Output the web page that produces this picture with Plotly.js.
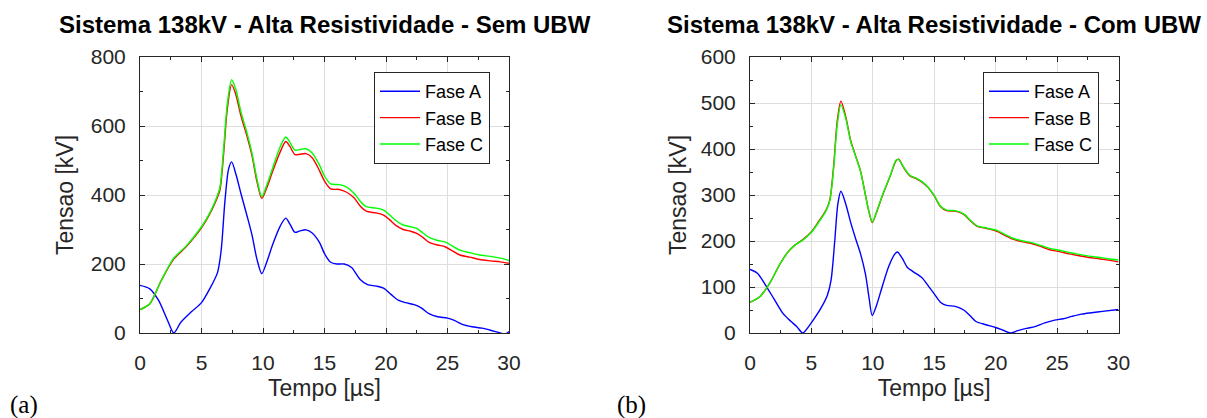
<!DOCTYPE html>
<html>
<head>
<meta charset="utf-8">
<script src="https://cdn.plot.ly/plotly-3.0.1.min.js"></script>
<style>html,body{margin:0;padding:0;background:#fff;}#chart{width:1207px;height:418px;}</style>
</head>
<body>
<div id="chart"></div>
<script>
// ---- Sem UBW (left) ----
const semA_t = [0,0.8,1.5,2.2,2.75,3.3,4.2,5.0,5.7,6.3,6.6,6.9,7.2,7.45,7.8,8.2,8.7,9.1,9.5,9.9,10.3,10.8,11.4,11.85,12.2,12.6,13.0,13.5,14.0,14.6,15.0,15.5,16.0,16.6,17.2,17.9,18.5,19.2,19.8,20.4,21.0,21.6,22.3,22.9,23.5,24.2,25.0,25.6,26.2,27.0,27.8,28.5,29.2,29.7,30];
const semA_v = [138,128,95,40,0,30,62,88,130,175,240,380,475,496,460,405,340,285,215,172,205,258,310,333,315,292,296,299,290,262,230,205,200,200,190,155,140,136,130,112,95,88,82,72,56,47,43,36,25,18,14,8,1,-3,4];

const semB_t = [0,0.8,1.7,2.7,3.8,5.0,5.6,6.2,6.5,6.8,7.1,7.45,7.8,8.2,8.7,9.1,9.5,9.9,10.3,10.8,11.4,11.85,12.2,12.6,13.0,13.5,14.0,14.6,15.0,15.5,16.2,16.8,17.4,17.9,18.4,19.2,19.8,20.3,20.8,21.4,22.0,22.5,23.0,23.5,24.2,24.8,25.4,26.0,26.8,27.6,28.5,29.3,30];
const semB_v = [68,85,150,212,252,305,340,385,415,520,650,720,690,630,570,515,440,390,420,470,525,555,540,517,518,520,508,470,440,418,416,408,392,368,353,348,342,328,312,300,295,289,277,263,255,250,238,226,220,213,209,206,202];

const semC_t = [0,0.8,1.7,2.7,3.8,5.0,5.6,6.2,6.5,6.8,7.1,7.45,7.8,8.2,8.7,9.1,9.5,9.9,10.3,10.8,11.4,11.85,12.2,12.6,13.0,13.5,14.0,14.6,15.0,15.5,16.2,16.8,17.4,17.9,18.4,19.2,19.8,20.3,20.8,21.4,22.0,22.5,23.0,23.5,24.2,24.8,25.4,26.0,26.8,27.6,28.5,29.3,30];
const semC_v = [68,85,150,215,254,308,343,390,423,535,665,734,705,642,580,522,448,395,428,480,540,568,552,530,532,534,522,486,455,432,430,423,405,382,366,362,356,342,326,313,308,303,290,277,268,264,252,240,233,226,222,217,210];

// ---- Com UBW (right) ----
const comA_t = [0,0.6,1.2,2.0,2.7,3.3,3.8,4.3,4.8,5.2,5.8,6.3,6.6,6.9,7.15,7.4,7.8,8.2,8.6,9.0,9.4,9.7,9.95,10.3,10.7,11.3,11.8,12.0,12.4,12.8,13.3,14.0,14.5,15.0,15.5,16.0,16.7,17.4,17.9,18.4,19.2,20.0,20.6,21.2,21.8,22.5,23.2,24.0,24.8,25.5,26.2,27.0,27.8,28.7,30];
const comA_v = [138,130,107,72,42,26,14,0,15,30,55,82,115,200,280,308,280,240,205,172,128,75,38,60,95,145,172,176,162,143,133,120,103,85,67,60,58,50,38,25,18,12,6,0,5,10,14,22,28,31,36,41,44,47,51];

const comB_t = [0,0.8,1.6,2.4,3.0,3.6,4.3,5.0,5.6,6.2,6.5,6.8,7.1,7.4,7.8,8.2,8.6,9.0,9.4,9.7,9.95,10.3,10.8,11.4,11.9,12.1,12.5,13.0,13.5,14.0,14.5,15.0,15.5,16.0,16.7,17.4,17.9,18.5,19.3,20.1,20.7,21.4,22.2,23.0,23.7,24.4,25.2,26.0,26.8,27.6,28.5,29.3,30];
const comB_v = [67,79,108,148,173,190,203,220,243,268,290,360,460,504,470,418,385,352,300,262,240,262,300,340,375,378,360,342,336,328,316,298,275,266,265,258,245,232,227,221,213,204,198,194,188,181,177,172,168,164,161,158,155];

const comC_t = [0,0.8,1.6,2.4,3.0,3.6,4.3,5.0,5.6,6.2,6.5,6.8,7.1,7.4,7.8,8.2,8.6,9.0,9.4,9.7,9.95,10.3,10.8,11.4,11.9,12.1,12.5,13.0,13.5,14.0,14.5,15.0,15.5,16.0,16.7,17.4,17.9,18.5,19.3,20.1,20.7,21.4,22.2,23.0,23.7,24.4,25.2,26.0,26.8,27.6,28.5,29.3,30];
const comC_v = [67,79,108,148,173,190,202,219,241,266,288,355,452,496,466,416,384,351,299,262,241,263,301,341,376,377,361,343,337,329,317,299,276,267,266,259,246,233,228,223,215,206,200,196,190,184,180,175,171,167,164,161,159];

const seriesNames = ['Fase A','Fase B','Fase C'];
const seriesColors = ['#0000ff','#ff0000','#00ff00'];
const titles = ['Sistema 138kV - Alta Resistividade - Sem UBW','Sistema 138kV - Alta Resistividade - Com UBW'];
const panelLabels = ['(a)','(b)'];
const xTitle = 'Tempo [µs]';
const yTitle = 'Tensao [kV]';

const FONT = 'Liberation Sans, Arial, Helvetica, sans-serif';
const AX = '#262626';

function tr(t, v, i, xa, ya, lg) {
  return {x: t, y: v, type: 'scatter', mode: 'lines', name: seriesNames[i],
    xaxis: xa, yaxis: ya, legend: lg,
    line: {color: seriesColors[i], width: 1.4, shape: 'spline', smoothing: 0.8}};
}

const data = [
  tr(semA_t, semA_v, 0, 'x', 'y', 'legend'),
  tr(semB_t, semB_v, 1, 'x', 'y', 'legend'),
  tr(semC_t, semC_v, 2, 'x', 'y', 'legend'),
  tr(comA_t, comA_v, 0, 'x2', 'y2', 'legend2'),
  tr(comB_t, comB_v, 1, 'x2', 'y2', 'legend2'),
  tr(comC_t, comC_v, 2, 'x2', 'y2', 'legend2')
];

function xax(domain, anchor) {
  return {domain: domain, anchor: anchor, range: [0, 30], tickvals: [0,5,10,15,20,25,30],
    ticks: 'inside', ticklen: 5, tickcolor: AX, showline: true, linecolor: AX, linewidth: 1, mirror: 'allticks',
    showgrid: true, gridcolor: 'rgb(222,222,222)', gridwidth: 1, zeroline: false,
    minor: {dtick: 2.5, ticks: 'inside', ticklen: 3, tickcolor: AX, showgrid: false},
    tickfont: {family: FONT, size: 21, color: AX}, ticklabelstandoff: 11,
    title: {text: xTitle, font: {family: FONT, size: 23, color: AX}, standoff: 6}};
}
function yax(domain, anchor, max, dt, mdt, so) {
  return {domain: domain, anchor: anchor, range: [0, max], dtick: dt, tick0: 0,
    ticks: 'inside', ticklen: 5, tickcolor: AX, showline: true, linecolor: AX, linewidth: 1, mirror: 'allticks',
    showgrid: true, gridcolor: 'rgb(222,222,222)', gridwidth: 1, zeroline: false,
    minor: {dtick: mdt, ticks: 'inside', ticklen: 3, tickcolor: AX, showgrid: false},
    tickfont: {family: FONT, size: 21, color: AX}, ticklabelstandoff: 9,
    title: {text: yTitle, font: {family: FONT, size: 23, color: AX}, standoff: so}};
}

const W = 1207, H = 418;
const yDom = [1 - 333/H, 1 - 57/H];
const legendCommon = {xanchor: 'left', yanchor: 'top', bgcolor: '#ffffff', itemwidth: 40,
  bordercolor: AX, borderwidth: 1, font: {family: FONT, size: 18, color: '#000'}, tracegroupgap: 0};
const layout = {
  width: W, height: H, autosize: false,
  margin: {l: 0, r: 0, t: 0, b: 0},
  paper_bgcolor: '#ffffff', plot_bgcolor: '#ffffff',
  font: {family: FONT, color: AX},
  showlegend: true,
  xaxis: xax([140/W, 509/W], 'y'),
  yaxis: yax(yDom, 'x', 800, 200, 100, 10),
  xaxis2: xax([750/W, 1118.5/W], 'y2'),
  yaxis2: yax(yDom, 'x2', 600, 100, 50, 7),
  legend: Object.assign({x: 374/W, y: 1 - 72/H}, legendCommon),
  legend2: Object.assign({x: 983/W, y: 1 - 72/H}, legendCommon),
  annotations: [
    {text: '<b>' + titles[0] + '</b>', xref: 'paper', yref: 'paper', x: 324.5/W, y: 1 - 24.6/H,
      xanchor: 'center', yanchor: 'middle', showarrow: false, font: {family: FONT, size: 24, color: '#000'}},
    {text: '<b>' + titles[1] + '</b>', xref: 'paper', yref: 'paper', x: 934/W, y: 1 - 24.6/H,
      xanchor: 'center', yanchor: 'middle', showarrow: false, font: {family: FONT, size: 24, color: '#000'}},
    {text: panelLabels[0], xref: 'paper', yref: 'paper', x: 8/W, y: 1 - 405/H,
      xanchor: 'left', yanchor: 'middle', showarrow: false, font: {family: 'Liberation Serif, Times New Roman, serif', size: 25, color: '#000'}},
    {text: panelLabels[1], xref: 'paper', yref: 'paper', x: 615/W, y: 1 - 405/H,
      xanchor: 'left', yanchor: 'middle', showarrow: false, font: {family: 'Liberation Serif, Times New Roman, serif', size: 25, color: '#000'}}
  ]
};

Plotly.newPlot('chart', data, layout, {staticPlot: true, displayModeBar: false});
</script>
</body>
</html>
